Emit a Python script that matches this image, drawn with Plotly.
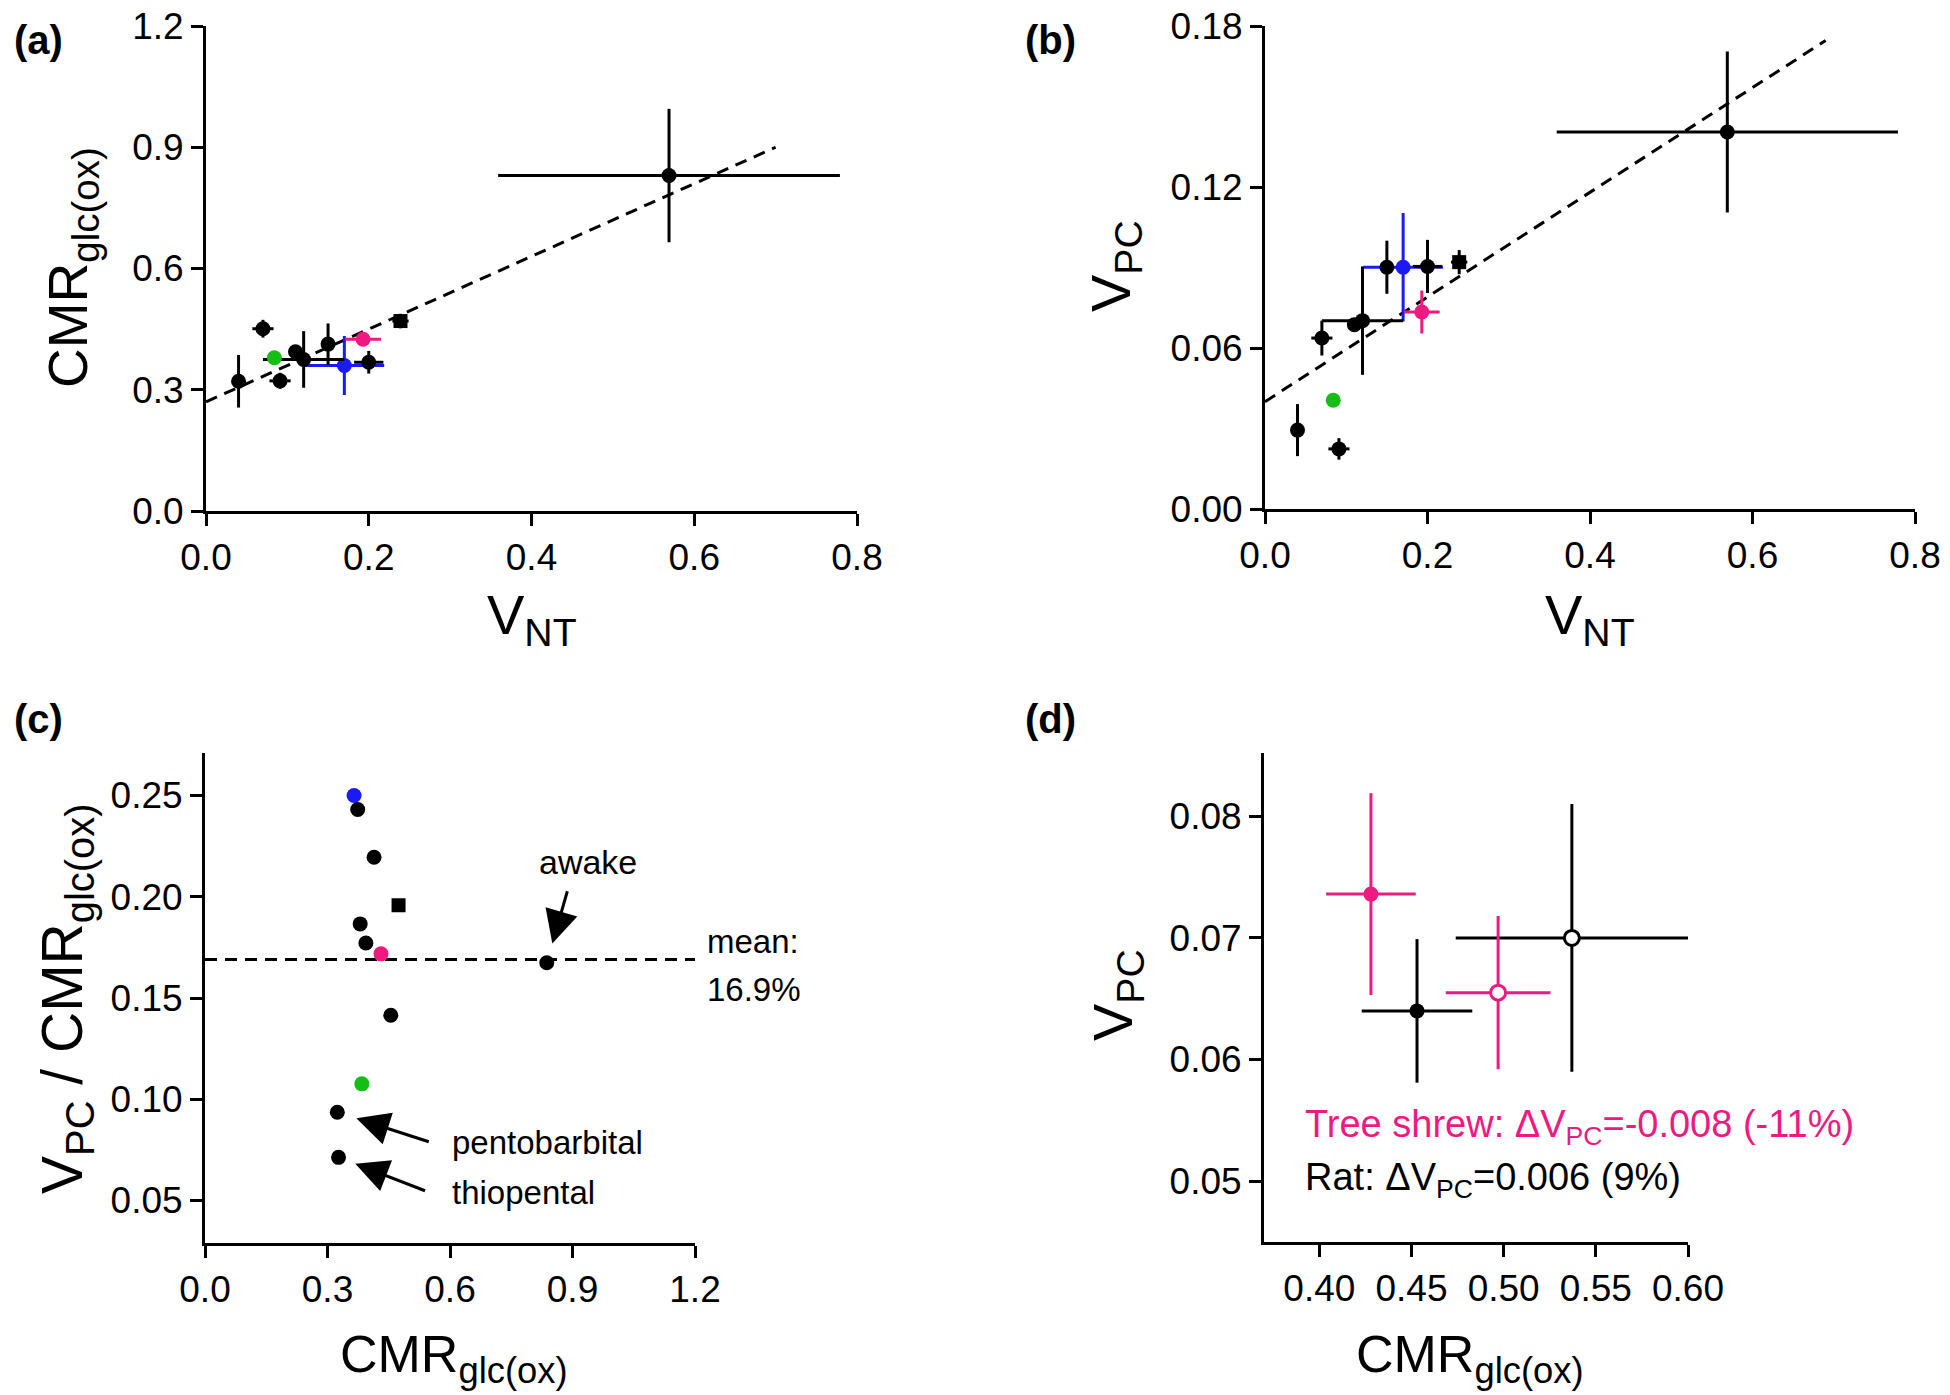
import plotly.graph_objects as go

FONT = 'Liberation Sans, Arial, sans-serif'
PINK = '#EE1A82'
BLUE = '#1A1AF5'
GREEN = '#14BE14'
W, H = 1950, 1395
BODY = 8  # default page margin round the plot div

# ---- panels (a) and (b): V_NT against CMR_glc(ox) and V_PC
vnt_black = [0.040, 0.070, 0.091, 0.110, 0.120, 0.150, 0.200, 0.569]
vnt_black_err = [0.0, 0.013, 0.013, 0.0, 0.050, 0.0, 0.018, 0.210]
cmr_black = [0.321, 0.451, 0.322, 0.394, 0.375, 0.413, 0.368, 0.830]
cmr_black_err = [0.065, 0.022, 0.020, 0.0, 0.070, 0.051, 0.028, 0.165]
vpc_black = [0.0294, 0.0637, 0.0224, 0.0687, 0.0702, 0.0901, 0.0904, 0.1405]
vpc_black_err = [0.0097, 0.0065, 0.0040, 0.0, 0.0202, 0.0099, 0.0099, 0.030]

vnt_square, vnt_square_err = [0.239], [0.010]
cmr_square, cmr_square_err = [0.470], [0.018]
vpc_square, vpc_square_err = [0.092], [0.0045]

vnt_blue, vnt_blue_err = [0.170], [0.049]
cmr_blue, cmr_blue_err = [0.360], [0.073]
vpc_blue, vpc_blue_err = [0.0901], [0.0202]

vnt_pink, vnt_pink_err = [0.193], [0.022]
cmr_pink, cmr_pink_err = [0.425], [0.008]
vpc_pink, vpc_pink_err = [0.0734], [0.008]

vnt_green = [0.084]
cmr_green = [0.379]
vpc_green = [0.0405]

fit_a_x = [0.0, 0.70]
fit_a_y = [0.27, 0.90]
fit_b_x = [0.0, 0.69]
fit_b_y = [0.040, 0.1746]

# ---- panel (c): V_PC / CMR_glc(ox)
ratio_x_black = [0.374, 0.414, 0.380, 0.394, 0.837, 0.455, 0.324, 0.327]
ratio_y_black = [0.2431, 0.2195, 0.1866, 0.1772, 0.1674, 0.1415, 0.0936, 0.0713]
ratio_x_square, ratio_y_square = [0.474], [0.1958]
ratio_x_blue, ratio_y_blue = [0.365], [0.250]
ratio_x_pink, ratio_y_pink = [0.431], [0.1718]
ratio_x_green, ratio_y_green = [0.384], [0.1076]
ratio_mean = 0.169

# ---- panel (d): tree shrew vs rat
ts_x = [0.428, 0.497]
ts_x_err = [0.0243, 0.0284]
ts_y = [0.0736, 0.0655]
ts_y_err = [0.0083, 0.0063]
rat_x = [0.453, 0.537]
rat_x_err = [0.030, 0.063]
rat_y = [0.0640, 0.0700]
rat_y_err = [0.0059, 0.011]


def px_x(p):
    return (p - BODY) / W


def px_y(p):
    return 1 - (p - BODY) / H


def err(arr, color):
    return dict(type='data', array=arr, color=color, thickness=3, width=0, visible=True)


def pts(x, y, color, xa, ya, ex=None, ey=None, symbol='circle', size=15, fill=None):
    return go.Scatter(
        x=x, y=y, mode='markers', xaxis=xa, yaxis=ya, showlegend=False, cliponaxis=False,
        marker=dict(color=fill or color, size=size, symbol=symbol,
                    line=dict(color=color, width=3 if fill else 0)),
        error_x=err(ex, color) if ex else None,
        error_y=err(ey, color) if ey else None)


def dashed(x, y, xa, ya):
    return go.Scatter(x=x, y=y, mode='lines', xaxis=xa, yaxis=ya, showlegend=False,
                      line=dict(color='black', width=3, dash='12px,8px'), cliponaxis=False)


fig = go.Figure()

# (a)
fig.add_trace(dashed(fit_a_x, fit_a_y, 'x', 'y'))
fig.add_trace(pts(vnt_blue, cmr_blue, BLUE, 'x', 'y', vnt_blue_err, cmr_blue_err))
fig.add_trace(pts(vnt_black, cmr_black, 'black', 'x', 'y', vnt_black_err, cmr_black_err))
fig.add_trace(pts(vnt_square, cmr_square, 'black', 'x', 'y', vnt_square_err, cmr_square_err, symbol='square', size=14))
fig.add_trace(pts(vnt_pink, cmr_pink, PINK, 'x', 'y', vnt_pink_err, cmr_pink_err))
fig.add_trace(pts(vnt_green, cmr_green, GREEN, 'x', 'y'))

# (b)
fig.add_trace(dashed(fit_b_x, fit_b_y, 'x2', 'y2'))
fig.add_trace(pts(vnt_blue, vpc_blue, BLUE, 'x2', 'y2', vnt_blue_err, vpc_blue_err))
fig.add_trace(pts(vnt_black, vpc_black, 'black', 'x2', 'y2', vnt_black_err, vpc_black_err))
fig.add_trace(pts(vnt_square, vpc_square, 'black', 'x2', 'y2', vnt_square_err, vpc_square_err, symbol='square', size=14))
fig.add_trace(pts(vnt_pink, vpc_pink, PINK, 'x2', 'y2', vnt_pink_err, vpc_pink_err))
fig.add_trace(pts(vnt_green, vpc_green, GREEN, 'x2', 'y2'))

# (c)
fig.add_trace(dashed([0, 1.2], [ratio_mean, ratio_mean], 'x3', 'y3'))
fig.add_trace(pts(ratio_x_blue, ratio_y_blue, BLUE, 'x3', 'y3'))
fig.add_trace(pts(ratio_x_black, ratio_y_black, 'black', 'x3', 'y3'))
fig.add_trace(pts(ratio_x_square, ratio_y_square, 'black', 'x3', 'y3', symbol='square', size=14))
fig.add_trace(pts(ratio_x_pink, ratio_y_pink, PINK, 'x3', 'y3'))
fig.add_trace(pts(ratio_x_green, ratio_y_green, GREEN, 'x3', 'y3'))

# (d)
fig.add_trace(pts(rat_x[1:], rat_y[1:], 'black', 'x4', 'y4', rat_x_err[1:], rat_y_err[1:], fill='white'))
fig.add_trace(pts(ts_x[1:], ts_y[1:], PINK, 'x4', 'y4', ts_x_err[1:], ts_y_err[1:], fill='white'))
fig.add_trace(pts(ts_x[:1], ts_y[:1], PINK, 'x4', 'y4', ts_x_err[:1], ts_y_err[:1]))
fig.add_trace(pts(rat_x[:1], rat_y[:1], 'black', 'x4', 'y4', rat_x_err[:1], rat_y_err[:1]))

axis_style = dict(showline=True, linecolor='black', linewidth=3, ticks='outside', ticklen=12,
                  tickwidth=3, tickcolor='black', showgrid=False, zeroline=False, automargin=False,
                  ticklabeloverflow='allow',
                  tickfont=dict(family=FONT, size=37, color='black'), fixedrange=True)

fig.update_layout(
    width=W, height=H, autosize=False, margin=dict(l=0, r=0, t=0, b=0, pad=0),
    paper_bgcolor='white', plot_bgcolor='white', showlegend=False,
    font=dict(family=FONT, color='black'),
    xaxis=dict(axis_style, domain=[px_x(206), px_x(857)], range=[0, 0.8], anchor='y',
               tickvals=[0, 0.2, 0.4, 0.6, 0.8], tickformat='.1f'),
    yaxis=dict(axis_style, domain=[px_y(511), px_y(26)], range=[0, 1.2], anchor='x',
               tickvals=[0, 0.3, 0.6, 0.9, 1.2], tickformat='.1f'),
    xaxis2=dict(axis_style, domain=[px_x(1265), px_x(1915)], range=[0, 0.8], anchor='y2',
                tickvals=[0, 0.2, 0.4, 0.6, 0.8], tickformat='.1f'),
    yaxis2=dict(axis_style, domain=[px_y(509), px_y(26)], range=[0, 0.18], anchor='x2',
                tickvals=[0, 0.06, 0.12, 0.18], tickformat='.2f'),
    xaxis3=dict(axis_style, domain=[px_x(205), px_x(695)], range=[0, 1.2], anchor='y3',
                tickvals=[0, 0.3, 0.6, 0.9, 1.2], tickformat='.1f'),
    yaxis3=dict(axis_style, domain=[px_y(1243), px_y(753)], range=[0.029, 0.271], anchor='x3',
                tickvals=[0.05, 0.10, 0.15, 0.20, 0.25], tickformat='.2f'),
    xaxis4=dict(axis_style, domain=[px_x(1264), px_x(1688)], range=[0.37, 0.60], anchor='y4',
                tickvals=[0.40, 0.45, 0.50, 0.55, 0.60], tickformat='.2f'),
    yaxis4=dict(axis_style, domain=[px_y(1242), px_y(753)], range=[0.045, 0.0852], anchor='x4',
                tickvals=[0.05, 0.06, 0.07, 0.08], tickformat='.2f'),
)

ann = []


def label(text, x, y, size=36, xanchor='center', angle=0, color='black'):
    ann.append(dict(text=text, x=px_x(x), y=px_y(y), xref='paper', yref='paper', showarrow=False,
                    xanchor=xanchor, yanchor='middle', textangle=angle,
                    font=dict(family=FONT, size=size, color=color)))


# panel letters
for t, x, y in [('<b>(a)</b>', 38, 40), ('<b>(b)</b>', 1050, 40), ('<b>(c)</b>', 38, 719), ('<b>(d)</b>', 1050, 719)]:
    label(t, x, y, size=40)

# axis titles
label('V<sub>NT</sub>', 532, 618, size=56)
label('V<sub>NT</sub>', 1590, 618, size=56)
label('CMR<sub>glc(ox)</sub>', 72, 268, size=55, angle=-90)
label('V<sub>PC</sub>', 1114, 266, size=56, angle=-90)
label('V<sub>PC</sub> / CMR<sub>glc(ox)</sub>', 66, 999, size=57, angle=-90)
label('CMR<sub>glc(ox)</sub>', 454, 1358, size=52)
label('V<sub>PC</sub>', 1116, 995, size=56, angle=-90)
label('CMR<sub>glc(ox)</sub>', 1470, 1358, size=52)

# panel (c) notes
label('awake', 588, 862, size=34)
label('mean:', 705, 941, size=33, xanchor='left')
label('16.9%', 705, 989, size=33, xanchor='left')
label('pentobarbital', 450, 1142, size=33, xanchor='left')
label('thiopental', 450, 1192, size=33, xanchor='left')

for i, ax, ay, so in [(4, 21, -73, 20), (6, 93, 30, 20), (7, 88, 34, 18)]:
    ann.append(dict(x=ratio_x_black[i], y=ratio_y_black[i], xref='x3', yref='y3', text='',
                    showarrow=True, ax=ax, ay=ay, arrowhead=2, arrowsize=2.2, arrowwidth=3,
                    arrowcolor='black', standoff=so))

# panel (d) notes
label('Tree shrew: ΔV<sub>PC</sub>=-0.008 (-11%)', 1303, 1127, size=38, xanchor='left', color=PINK)
label('Rat: ΔV<sub>PC</sub>=0.006 (9%)', 1303, 1180, size=38, xanchor='left')

fig.update_layout(annotations=ann)

fig.write_html("out.html")
